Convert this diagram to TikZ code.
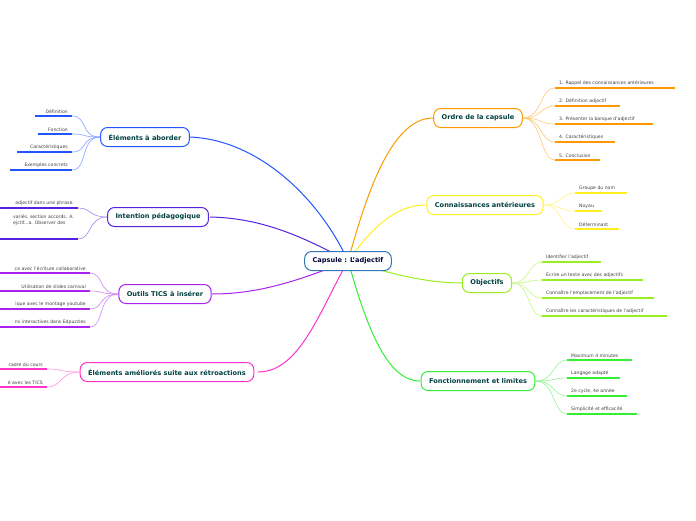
\documentclass[tikz,border=0pt]{standalone}
\usepackage{fontspec}
\setmainfont{DejaVu Sans}
\begin{document}
\begin{tikzpicture}[x=1pt,y=-1pt,
  topic/.style={draw=#1,line width=1pt,rounded corners=7pt,fill=white,font=\bfseries\fontsize{6.6}{8}\selectfont,text=teal!50!black,minimum height=19pt,inner xsep=8pt},
  leaftext/.style={font=\fontsize{4.6}{5.6}\selectfont,text=black!75,inner sep=1pt,align=left},
  uline/.style={draw=#1,line width=1.2pt},
  lcon/.style={draw=#1!55,line width=0.6pt},
  mcon/.style={draw=#1,line width=1pt}]
\useasboundingbox (0,0) rectangle (696,520);
\clip (0,0) rectangle (696,520);
\definecolor{cA}{HTML}{2255FF}\definecolor{cB}{HTML}{5522DD}\definecolor{cC}{HTML}{AA22EE}
\definecolor{cD}{HTML}{FF33CC}\definecolor{cE}{HTML}{FF9900}\definecolor{cF}{HTML}{FFEE22}
\definecolor{cG}{HTML}{99EE22}\definecolor{cH}{HTML}{33EE33}\definecolor{cZ}{HTML}{3377BB}
% leaf macros: name, color, xstart, xend, liney, text
\newcommand\myleafR[6]{\coordinate (#1a) at (#3,#5);\coordinate (#1b) at (#4,#5);
  \draw[uline=#2] (#1a)--(#1b);\node[leaftext,anchor=south west] (#1) at (#3+3,#5-1) {#6};}
\newcommand\myleafL[6]{\coordinate (#1a) at (#3,#5);\coordinate (#1b) at (#4,#5);
  \draw[uline=#2] (#1a)--(#1b);\node[leaftext,anchor=south east] (#1) at (#4-3,#5-1) {#6};}

\coordinate (cc) at (348,261);
% main connectors
\draw[mcon=cA] (cc) .. controls (320,200) and (260,140) .. (190,137);
\draw[mcon=cB] (cc) .. controls (300,235) and (260,218) .. (210,217);
\draw[mcon=cC] (cc) .. controls (300,280) and (260,294) .. (212,294);
\draw[mcon=cD] (cc) .. controls (320,310) and (300,372) .. (258,372);
\draw[mcon=cE] (cc) .. controls (365,200) and (390,118) .. (433,118);
\draw[mcon=cF] (cc) .. controls (370,230) and (395,205) .. (425,205);
\draw[mcon=cG] (cc) .. controls (380,270) and (420,283) .. (462,283);
\draw[mcon=cH] (cc) .. controls (365,320) and (385,381) .. (420,381);

\node[topic=cZ,text=black!80!blue] (center) at (348,261) {Capsule : L'adjectif};
\node[topic=cA] (A) at (145,137) {Éléments à aborder};
\node[topic=cB] (B) at (158,217) {Intention pédagogique};
\node[topic=cC] (C) at (165,294) {Outils TICS à insérer};
\node[topic=cD] (D) at (167,372) {Éléments améliorés suite aux rétroactions};
\node[topic=cE] (E) at (478,118) {Ordre de la capsule};
\node[topic=cF] (F) at (485,205) {Connaissances antérieures};
\node[topic=cG] (G) at (487,283) {Objectifs};
\node[topic=cH] (H) at (478,381) {Fonctionnement et limites};

% A leaves
\myleafL{a1}{cA}{35}{72}{116}{Définition}
\myleafL{a2}{cA}{38}{72}{134}{Fonction}
\myleafL{a3}{cA}{17}{72}{152}{Caractéristiques}
\myleafL{a4}{cA}{10}{72}{170}{Exemples concrets}
\foreach \l in {a1,a2,a3,a4}\draw[lcon=cA] (A.west) .. controls (80,137) and (88,0|-\l b) .. (\l b);
% B leaves
\myleafL{b1}{cB}{0}{78}{208}{adjectif dans une phrase.}
\coordinate (b2a) at (0,239);\coordinate (b2b) at (78,239);\draw[uline=cB] (b2a)--(b2b);
\node[leaftext,anchor=north east] (b2) at (75,214) {variés, section accords. A.\\ejctif...a. Observer des};
\foreach \l in {b1,b2}\draw[lcon=cB] (B.west) .. controls (88,217) and (92,0|-\l b) .. (\l b);
% C leaves
\myleafL{c1}{cC}{0}{90}{273}{ce avec l'écriture collaborative}
\myleafL{c2}{cC}{0}{90}{291}{Utilisation de slides carnival}
\myleafL{c3}{cC}{0}{90}{309}{ique avec le montage youtube}
\myleafL{c4}{cC}{0}{90}{327}{ns interactives dans Edpuzzles}
\foreach \l in {c1,c2,c3,c4}\draw[lcon=cC] (C.west) .. controls (98,294) and (104,0|-\l b) .. (\l b);
% D leaves
\myleafL{d1}{cD}{0}{47}{369}{cadre du cours}
\myleafL{d2}{cD}{0}{47}{387}{é avec les TICS}
\foreach \l in {d1,d2}\draw[lcon=cD] (D.west) .. controls (60,372) and (62,0|-\l b) .. (\l b);
% E leaves
\myleafR{e1}{cE}{555}{675}{88}{1. Rappel des connaissances antérieures}
\myleafR{e2}{cE}{555}{620}{106}{2. Définition adjectif}
\myleafR{e3}{cE}{555}{653}{124}{3. Présenter la banque d'adjectif}
\myleafR{e4}{cE}{555}{615}{142}{4. Caractéristiques}
\myleafR{e5}{cE}{555}{600}{160}{5. Conclusion}
\foreach \l in {e1,e2,e3,e4,e5}\draw[lcon=cE] (E.east) .. controls (542,118) and (540,0|-\l a) .. (\l a);
% F leaves
\myleafR{f1}{cF}{575}{627}{193}{Groupe du nom}
\myleafR{f2}{cF}{575}{602}{211}{Noyau}
\myleafR{f3}{cF}{575}{619}{229}{Déterminant}
\foreach \l in {f1,f2,f3}\draw[lcon=cF] (F.east) .. controls (562,205) and (560,0|-\l a) .. (\l a);
% G leaves
\myleafR{g1}{cG}{542}{601}{262}{Identifier l'adjectif}
\myleafR{g2}{cG}{542}{643}{280}{Écrire un texte avec des adjectifs}
\myleafR{g3}{cG}{542}{654}{298}{Connaître l'emplacement de l'adjectif}
\myleafR{g4}{cG}{542}{667}{316}{Connaître les caractéristiques de l'adjectif}
\foreach \l in {g1,g2,g3,g4}\draw[lcon=cG] (G.east) .. controls (530,283) and (528,0|-\l a) .. (\l a);
% H leaves
\myleafR{h1}{cH}{567}{632}{360}{Maximum 4 minutes}
\myleafR{h2}{cH}{567}{620}{378}{Langage adapté}
\myleafR{h3}{cH}{567}{627}{396}{2e cycle, 4e année}
\myleafR{h4}{cH}{567}{637}{414}{Simplicité et efficacité}
\foreach \l in {h1,h2,h3,h4}\draw[lcon=cH] (H.east) .. controls (555,381) and (553,0|-\l a) .. (\l a);
\end{tikzpicture}
\end{document}
